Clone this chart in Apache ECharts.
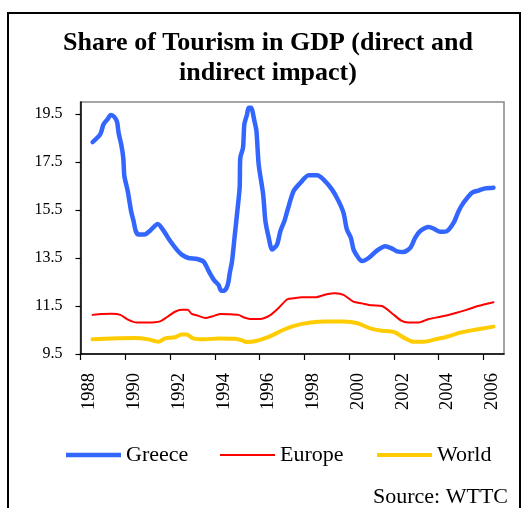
<!DOCTYPE html>
<html>
<head>
<meta charset="utf-8">
<script src="https://cdn.jsdelivr.net/npm/echarts@6/dist/echarts.min.js"></script>
<style>
  html, body { margin: 0; padding: 0; background: #ffffff; }
  #chart { width: 522px; height: 508px; }
</style>
</head>
<body>
<div id="chart"></div>
<script>
// Share of tourism in GDP, % (direct and indirect impact)
const greeceYears = [1988.54, 1988.88, 1989.03, 1989.22, 1989.35, 1989.52, 1989.64, 1989.70, 1989.82, 1989.91,
  1989.96, 1990.11, 1990.26, 1990.37, 1990.47, 1990.59, 1990.86, 1991.11, 1991.45, 1991.71,
  1991.96, 1992.30, 1992.52, 1992.82, 1993.21, 1993.51, 1993.73, 1993.95, 1994.17, 1994.28,
  1994.43, 1994.58, 1994.67, 1994.77, 1994.88, 1994.99, 1995.11, 1995.14, 1995.26, 1995.32,
  1995.44, 1995.51, 1995.62, 1995.77, 1995.86, 1995.96, 1996.16, 1996.26, 1996.41, 1996.56,
  1996.78, 1996.93, 1997.11, 1997.25, 1997.52, 1997.82, 1998.19, 1998.57, 1998.86, 1999.24,
  1999.53, 1999.75, 1999.90, 2000.08, 2000.20, 2000.42, 2000.57, 2000.87, 2001.24, 2001.62,
  2001.90, 2002.14, 2002.43, 2002.73, 2002.95, 2003.18, 2003.55, 2003.77, 2004.07, 2004.37,
  2004.67, 2004.89, 2005.11, 2005.49, 2005.78, 2006.08, 2006.45];
const greeceShare = [18.33, 18.65, 19.07, 19.30, 19.46, 19.37, 19.14, 18.72, 18.23, 17.68,
  16.91, 16.29, 15.45, 15.04, 14.62, 14.48, 14.48, 14.64, 14.92, 14.64,
  14.27, 13.85, 13.64, 13.50, 13.46, 13.34, 12.95, 12.60, 12.37, 12.14,
  12.14, 12.39, 12.88, 13.37, 14.34, 15.31, 16.43, 17.68, 18.09, 19.07,
  19.48, 19.76, 19.76, 19.21, 18.79, 17.40, 16.15, 15.04, 14.34, 13.85,
  14.06, 14.62, 15.04, 15.50, 16.29, 16.63, 16.95, 16.95, 16.77, 16.35,
  15.87, 15.38, 14.69, 14.34, 13.85, 13.50, 13.37, 13.50, 13.81, 13.99,
  13.90, 13.78, 13.75, 13.92, 14.34, 14.62, 14.79, 14.73, 14.59, 14.62,
  14.97, 15.45, 15.80, 16.22, 16.31, 16.40, 16.43];

const europeYears = [1988.54, 1988.96, 1989.40, 1989.78, 1990.14, 1990.51, 1991.03, 1991.55, 1991.85, 1992.22,
  1992.52, 1992.79, 1992.97, 1993.27, 1993.57, 1993.86, 1994.24, 1994.61, 1995.06, 1995.28,
  1995.58, 1996.02, 1996.46, 1996.84, 1997.24, 1997.52, 1997.89, 1998.48, 1999.00, 1999.38,
  1999.75, 2000.19, 2000.57, 2001.01, 2001.46, 2001.91, 2002.33, 2002.63, 2003.08, 2003.53,
  2004.12, 2004.72, 2005.24, 2005.76, 2006.45];
const europeShare = [11.13, 11.17, 11.18, 11.13, 10.92, 10.81, 10.81, 10.86, 11.03, 11.26,
  11.34, 11.34, 11.17, 11.09, 11.00, 11.06, 11.17, 11.16, 11.13, 11.03,
  10.96, 10.96, 11.11, 11.41, 11.78, 11.82, 11.86, 11.86, 11.99, 12.03,
  11.96, 11.68, 11.61, 11.53, 11.50, 11.20, 10.89, 10.81, 10.81, 10.95,
  11.06, 11.20, 11.34, 11.50, 11.66];

const worldYears = [1988.54, 1989.40, 1990.44, 1991.03, 1991.48, 1991.78, 1992.22, 1992.52, 1992.74, 1993.04,
  1993.56, 1994.16, 1994.90, 1995.19, 1995.41, 1995.79, 1996.38, 1996.98, 1997.54, 1998.28,
  1999.02, 1999.77, 2000.37, 2000.94, 2001.46, 2001.99, 2002.50, 2002.88, 2003.33, 2003.85,
  2004.37, 2004.96, 2005.56, 2006.45];
const worldShare = [10.11, 10.15, 10.17, 10.11, 10.01, 10.15, 10.20, 10.31, 10.31, 10.15,
  10.11, 10.15, 10.14, 10.08, 10.00, 10.03, 10.20, 10.47, 10.67, 10.81,
  10.85, 10.85, 10.78, 10.57, 10.47, 10.42, 10.15, 10.01, 10.01, 10.11,
  10.22, 10.39, 10.50, 10.64];

const yearTicks = [1988, 1990, 1992, 1994, 1996, 1998, 2000, 2002, 2004, 2006];
const shareTicks = [9.5, 11.5, 13.5, 15.5, 17.5, 19.5];

const seriesNames = ['Greece', 'Europe', 'World'];
const seriesColors = ['#3366ff', '#ff0000', '#ffcc00'];
const seriesWidths = [4.5, 2, 4];

const pairs = (xs, ys) => xs.map((x, i) => [x, ys[i]]);
const seriesData = [pairs(greeceYears, greeceShare), pairs(europeYears, europeShare), pairs(worldYears, worldShare)];

const serif = '"Liberation Serif", "Times New Roman", serif';
const labelShift = 0.4; // year labels sit between tick marks

const chart = echarts.init(document.getElementById('chart'), null, { renderer: 'canvas' });

const legendLeft = [66, 220, 377];

chart.setOption({
  animation: false,
  backgroundColor: '#ffffff',
  grid: {
    left: 80.5, right: 18, top: 102, bottom: 154,
    show: true, borderColor: '#888888', borderWidth: 1.5, backgroundColor: '#ffffff'
  },
  xAxis: {
    type: 'value',
    min: 1988, max: 2006.92,
    splitLine: { show: false },
    axisLine: { lineStyle: { color: '#000000', width: 1.5 } },
    axisTick: { show: true, inside: false, length: 6, customValues: yearTicks, lineStyle: { color: '#000000', width: 1.2 } },
    axisLabel: {
      customValues: yearTicks.map(y => y + labelShift),
      formatter: v => String(Math.floor(v)),
      rotate: 90, margin: 19,
      color: '#000000', fontFamily: serif, fontSize: 18.5
    }
  },
  yAxis: {
    type: 'value',
    min: 9.5, max: 20,
    splitLine: { show: false },
    axisLine: { show: true, lineStyle: { color: '#000000', width: 1.5 } },
    axisTick: { show: true, inside: false, length: 5, customValues: shareTicks, lineStyle: { color: '#000000', width: 1.2 } },
    axisLabel: {
      customValues: shareTicks,
      formatter: v => v.toFixed(1),
      margin: 18,
      color: '#000000', fontFamily: serif, fontSize: 16
    }
  },
  legend: seriesNames.map((name, i) => ({
    data: [name],
    left: legendLeft[i], top: 444,
    padding: 0,
    icon: 'rect',
    itemWidth: 55, itemHeight: seriesWidths[i],
    selectedMode: false,
    textStyle: { color: '#000000', fontFamily: serif, fontSize: 22 }
  })),
  series: seriesNames.map((name, i) => ({
    name,
    type: 'line',
    data: seriesData[i],
    symbol: 'none',
    smooth: 0.25,
    itemStyle: { color: seriesColors[i] },
    lineStyle: { color: seriesColors[i], width: seriesWidths[i], cap: 'round', join: 'round' },
    z: 3 - i
  })),
  graphic: [
    {
      type: 'rect', silent: true,
      shape: { x: 8, y: 13, width: 512, height: 520 },
      style: { fill: null, stroke: '#000000', lineWidth: 2 }
    },
    {
      type: 'text', silent: true,
      x: 268, y: 28,
      style: {
        text: 'Share of Tourism in GDP (direct and\nindirect impact)',
        align: 'center', verticalAlign: 'top',
        font: 'bold 26px ' + serif, lineHeight: 30, fill: '#000000'
      }
    },
    {
      type: 'text', silent: true,
      x: 508, y: 497,
      style: {
        text: 'Source: WTTC',
        align: 'right', verticalAlign: 'middle',
        font: '22px ' + serif, fill: '#000000'
      }
    }
  ]
});
</script>
</body>
</html>
